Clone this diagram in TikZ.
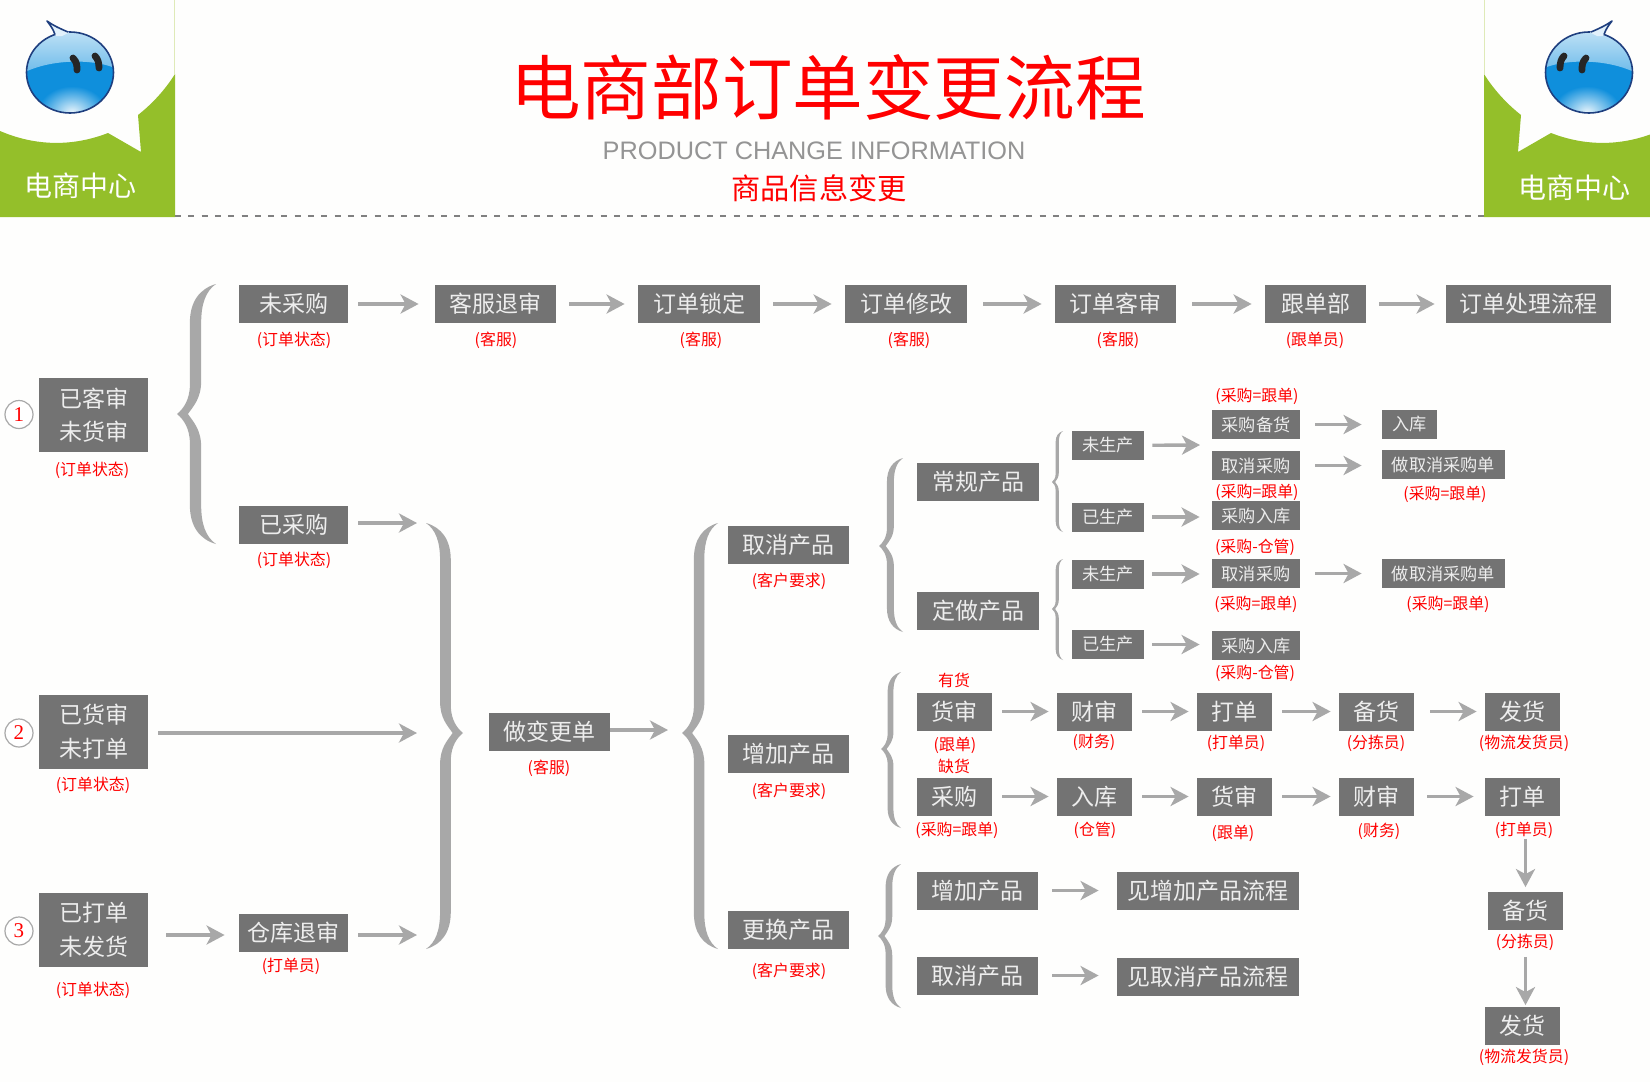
\documentclass[tikz,border=0pt]{standalone}
\usepackage{fontspec}
\setmainfont{Noto Sans CJK SC}
\newfontfamily\latinfont{Liberation Sans}
\newfontfamily\digitfont{Liberation Serif}
\usetikzlibrary{arrows.meta}
\definecolor{boxgray}{HTML}{737373}
\definecolor{linegray}{HTML}{A8A8A8}
\definecolor{leafgreen}{HTML}{94BF2A}
\definecolor{paleleaf}{HTML}{DFEAB8}
\definecolor{ballblue}{HTML}{0F8FDC}
\definecolor{ballnavy}{HTML}{1F3F7F}
\definecolor{pagebg}{HTML}{FEFEFD}
\tikzset{
stagebox/.style={
    rectangle,
    fill=boxgray,
    text=white!93!black,
    inner sep=0pt,
    minimum width=#1,
    minimum height=19pt,
    align=center,
    font=\fontsize{11.5}{16.8}\selectfont
},
minibox/.style={
    stagebox=#1,
    minimum height=14.5pt,
    font=\fontsize{8.6}{10}\selectfont
},
tag/.style={
    text=red,
    inner sep=0pt,
    yshift=-0.7pt,
    font=\fontsize{7.95}{9}\selectfont
},
headtext/.style={
    text=red,
    inner sep=0pt
},
step-no/.style={
    circle,
    draw=linegray,
    fill=white,
    text=red,
    line width=0.6pt,
    inner sep=0pt,
    minimum size=14pt,
    font=\digitfont\fontsize{10.5}{11}\selectfont
},
flow/.style={
    linegray,
    line width=1.7pt,
    >={Stealth[length=9pt,width=9.5pt,inset=2.5pt]},
    shorten <=6.5pt,
    shorten >=6.5pt
},
flownear/.style={
    flow,
    shorten <=5pt,
    shorten >=4pt
},
flowopen/.style={
    flow,
    shorten <=5pt,
    shorten >=0pt
},
}
\tikzset{bubble/.pic={
%
\fill [leafgreen] (0,217) -- (175,217) -- (175,74)
    .. controls (165,90) and (152,104) .. (138,115)
    -- (141,152) -- (108,133)
    .. controls (72,147) and (35,146) .. (0,131) -- cycle;
\draw [paleleaf,line width=0.8pt] (174.5,0) -- (174.5,74);
%
\fill [ballblue] (70,72.5) ellipse (43.5 and 40.5);
\begin{scope}
\clip (70,72.5) ellipse (43.5 and 40.5);
\shade [top color=ballblue!22!white,bottom color=ballblue!60!white]
    (25,72) .. controls (50,60) and (90,58) .. (115,68) -- (115,25) -- (25,25) -- cycle;
\shade [inner color=ballblue!10!white,outer color=ballblue] (72,112) ellipse (34 and 26);
\end{scope}
\draw [ballnavy,line width=0.8pt] (70,72.5) ellipse (43.5 and 40.5);
\fill [ballblue!12!white] (56,36) .. controls (54,30) and (51,26) .. (47,21) .. controls (54,26) and (61,29) .. (69,32.5) -- (62,36) -- cycle;
\draw [ballnavy,line width=0.8pt,line join=round] (55,34.5) .. controls (53,29) and (51,26) .. (47,21) .. controls (54,26) and (61,29) .. (68,32);
%
\draw [black!85,line width=3.4pt,line cap=round] (73,58) .. controls (77,62) and (77,66) .. (77,70);
\draw [black!85,line width=3.4pt,line cap=round] (95,56) .. controls (98,59) and (99,63) .. (99,68);
%
}}
\newcommand{\curlybrace}[5]{%
\pgfmathsetmacro{\braceA}{#1+0.33*#2}%
\pgfmathsetmacro{\braceB}{#1+0.62*#2}%
\pgfmathsetmacro{\braceE}{#1+#2}%
\pgfmathsetmacro{\braceH}{abs(#2)}%
\fill [linegray] (\braceE,#3)
    .. controls ({\braceA+0.25*#2},{#3+0.12*\braceH}) and (\braceA,{#3+0.45*\braceH}) .. (\braceA,{#3+\braceH})
    -- (\braceA,{#4-0.75*\braceH})
    .. controls (\braceA,{#4-0.35*\braceH}) and ({#1+0.15*#2},{#4-0.12*\braceH}) .. (#1,#4)
    .. controls ({#1+0.15*#2},{#4+0.12*\braceH}) and (\braceA,{#4+0.35*\braceH}) .. (\braceA,{#4+0.75*\braceH})
    -- (\braceA,{#5-\braceH})
    .. controls (\braceA,{#5-0.45*\braceH}) and ({\braceA+0.25*#2},{#5-0.12*\braceH}) .. (\braceE,#5)
    .. controls ({\braceB+0.12*#2},{#5-0.18*\braceH}) and (\braceB,{#5-0.5*\braceH}) .. (\braceB,{#5-\braceH})
    -- (\braceB,{#4+0.85*\braceH})
    .. controls (\braceB,{#4+0.4*\braceH}) and ({#1+0.42*#2},{#4+0.2*\braceH}) .. ({#1+0.28*#2},#4)
    .. controls ({#1+0.42*#2},{#4-0.2*\braceH}) and (\braceB,{#4-0.4*\braceH}) .. (\braceB,{#4-0.85*\braceH})
    -- (\braceB,{#3+\braceH})
    .. controls (\braceB,{#3+0.5*\braceH}) and ({\braceB+0.12*#2},{#3+0.18*\braceH}) .. (\braceE,#3) -- cycle;
}

\begin{document}
\begin{tikzpicture}[x=0.5pt,y=-0.5pt]

\clip (0,0) rectangle (1650,1082);
\fill [pagebg] (0,0) rectangle (1650,1082);

% header
\pic {bubble};
\pic [xscale=-1] at (1659,0) {bubble};
\node [text=white,inner sep=0pt,font=\fontsize{14}{15}\selectfont] (center-l) at (81,186) {电商中心};
\node [text=white,inner sep=0pt,font=\fontsize{14}{15}\selectfont] (center-r) at (1574,188) {电商中心};
\node [headtext,font=\fontsize{35.3}{37}\selectfont] (title) at (828,87) {电商部订单变更流程};
\node [inner sep=0pt,text=black!42,font=\latinfont\fontsize{12.65}{14}\selectfont] (subtitle) at (814,151) {PRODUCT CHANGE INFORMATION};
\node [headtext,font=\fontsize{14.6}{16}\selectfont] (subtitle-cn) at (819,188) {商品信息变更};
\coordinate (rule-l) at (175,216);
\coordinate (rule-r) at (1484,216);
\draw [black!50,line width=0.55pt,dash pattern=on 3pt off 3.65pt] (rule-l) -- (rule-r);

% left column
\node [step-no] (no1) at (19,414.5) {1};
\node [step-no] (no2) at (19,733) {2};
\node [step-no] (no3) at (19,931) {3};
\node [stagebox=54.5pt,minimum height=37pt] (kh) at (93.5,415) {已客审\\未货审};
\node [tag] (kh-tag) at (92,469) {(订单状态)};
\node [stagebox=54.5pt,minimum height=37pt] (hs) at (93.5,731.5) {已货审\\未打单};
\node [tag] (hs-tag) at (93,784) {(订单状态)};
\node [stagebox=54.5pt,minimum height=37pt] (dd) at (93.5,930) {已打单\\未发货};
\node [tag] (dd-tag) at (93,989) {(订单状态)};

% top row
\node [stagebox=54.5pt] (wcg) at (293.5,304) {未采购};
\node [tag] (wcg-tag) at (294,339) {(订单状态)};
\node [stagebox=60.5pt] (kftc) at (495.5,304) {客服退审};
\node [tag] (kftc-tag) at (496,339) {(客服)};
\node [stagebox=61pt] (ddsd) at (699,304) {订单锁定};
\node [tag] (ddsd-tag) at (701,339) {(客服)};
\node [stagebox=61pt] (ddxg) at (906,304) {订单修改};
\node [tag] (ddxg-tag) at (909,339) {(客服)};
\node [stagebox=60.5pt] (ddks) at (1115.5,304) {订单客审};
\node [tag] (ddks-tag) at (1118,339) {(客服)};
\node [stagebox=50.5pt] (gdb) at (1315.5,304) {跟单部};
\node [tag] (gdb-tag) at (1315,339) {(跟单员)};
\node [stagebox=82.5pt] (ddcl) at (1528.5,304) {订单处理流程};

\draw [->,flow,shorten <=5pt,shorten >=8pt] (wcg) -- (kftc);
\draw [->,flow] (kftc) -- (ddsd);
\draw [->,flow] (ddsd) -- (ddxg);
\draw [->,flow,shorten <=8pt] (ddxg) -- (ddks);
\draw [->,flow,shorten <=8pt] (ddks) -- (gdb);
\draw [->,flow,shorten >=5.5pt] (gdb) -- (ddcl);

% second column
\node [stagebox=54.5pt] (ycg) at (293.5,524.5) {已采购};
\node [tag] (ycg-tag) at (294,559) {(订单状态)};
\node [stagebox=54.5pt] (cktc) at (293.5,932.5) {仓库退审};
\node [tag] (cktc-tag) at (291,965) {(打单员)};
\coordinate (merge-a) at (417,523);
\coordinate (merge-b) at (417,733);
\coordinate (merge-c) at (417,935);
\draw [->,flowopen] (ycg.east |- merge-a) -- (merge-a);
\draw [->,flowopen] (hs.east |- merge-b) -- (merge-b);
\draw [->,flowopen] (cktc.east |- merge-c) -- (merge-c);
\draw [->,flow,shorten >=7pt,shorten <=9pt] (dd.east |- merge-c) -- (cktc.west |- merge-c);

\curlybrace{177}{39}{284}{414}{544}
\curlybrace{463}{-37}{523}{733}{949}
\curlybrace{682}{36}{523}{733}{949}
\curlybrace{879}{24}{458}{546}{632}
\curlybrace{881}{20}{672}{749}{828}
\curlybrace{878}{23}{864}{936}{1008}
\curlybrace{1052}{11}{431}{482}{532}
\curlybrace{1052}{11}{559}{609}{660}

% change order
\node [stagebox=60.5pt] (bgd) at (549.5,732) {做变更单};
\node [tag] (bgd-tag) at (549,767) {(客服)};
\coordinate (merge-d) at (668,730);
\draw [->,flow,shorten <=0pt,shorten >=0pt] (bgd.east |- merge-d) -- (merge-d);
\node [stagebox=60.5pt] (qxcp) at (788.5,544.5) {取消产品};
\node [tag] (qxcp-tag) at (789,580) {(客户要求)};
\node [stagebox=60.5pt] (zjcp) at (788.5,753.5) {增加产品};
\node [tag] (zjcp-tag) at (789,790) {(客户要求)};
\node [stagebox=60.5pt] (ghcp) at (788.5,930) {更换产品};
\node [tag] (ghcp-tag) at (789,970) {(客户要求)};

% cancel branch
\node [stagebox=61pt] (cgcp) at (978,482) {常规产品};
\node [stagebox=61pt] (dzcp) at (978,610.5) {定做产品};
\node [minibox=36pt] (wsc-a) at (1108,445.5) {未生产};
\node [minibox=36pt] (ysc-a) at (1108,517) {已生产};
\node [minibox=36pt] (wsc-b) at (1108,574) {未生产};
\node [minibox=36pt] (ysc-b) at (1108,644.5) {已生产};
\node [tag] (cgbh-tag) at (1257,395) {(采购=跟单)};
\node [minibox=44pt] (cgbh) at (1256,424.5) {采购备货};
\node [minibox=44pt] (qxcg-a) at (1256,465.5) {取消采购};
\node [tag] (qxcg-a-tag) at (1257,491) {(采购=跟单)};
\node [minibox=44pt] (cgrk-a) at (1256,515.5) {采购入库};
\node [tag] (cgrk-a-tag) at (1255,546) {(采购-仓管)};
\node [minibox=44pt] (qxcg-b) at (1256,573.5) {取消采购};
\node [tag] (qxcg-b-tag) at (1256,603) {(采购=跟单)};
\node [minibox=44pt] (cgrk-b) at (1256,645.5) {采购入库};
\node [tag] (cgrk-b-tag) at (1255,672) {(采购-仓管)};
\node [minibox=27.5pt] (rk-a) at (1409.5,424.5) {入库};
\node [minibox=61.5pt] (zqx-a) at (1443.5,464.5) {做取消采购单};
\node [tag] (zqx-a-tag) at (1445,493) {(采购=跟单)};
\node [minibox=61.5pt] (zqx-b) at (1443.5,573.5) {做取消采购单};
\node [tag] (zqx-b-tag) at (1448,603) {(采购=跟单)};

\coordinate (fork-a) at (1200,445);
\draw [->,flow,shorten <=4pt,shorten >=0pt] (wsc-a) -- (fork-a);
\draw [->,flow,shorten <=4pt,shorten >=6pt] (ysc-a.east) -- (cgrk-a.west |- ysc-a.east);
\draw [->,flow,shorten <=4pt,shorten >=6pt] (wsc-b) -- (qxcg-b.west |- wsc-b);
\draw [->,flow,shorten <=4pt,shorten >=6pt] (ysc-b.east) -- (cgrk-b.west |- ysc-b.east);
\draw [->,flow,shorten <=7.5pt,shorten >=10pt] (cgbh) -- (rk-a);
\draw [->,flow,shorten <=7.5pt,shorten >=10pt] (qxcg-a.east) -- (zqx-a.west |- qxcg-a.east);
\draw [->,flow,shorten <=7.5pt,shorten >=10pt] (qxcg-b) -- (zqx-b);

% add branch
\node [tag] (yh) at (954,679) {有货};
\node [stagebox=37.5pt] (hs-a) at (954.5,711.5) {货审};
\node [tag] (hs-a-tag) at (955,744) {(跟单)};
\node [stagebox=37.5pt] (cs-a) at (1094.5,711.5) {财审};
\node [tag] (cs-a-tag) at (1094,741) {(财务)};
\node [stagebox=37.5pt] (dj-a) at (1234.5,711.5) {打单};
\node [tag] (dj-a-tag) at (1236,742) {(打单员)};
\node [stagebox=37.5pt] (bh-a) at (1376.5,711.5) {备货};
\node [tag] (bh-a-tag) at (1376,742) {(分拣员)};
\node [stagebox=37.5pt] (fh-a) at (1522.5,711.5) {发货};
\node [tag] (fh-a-tag) at (1524,742) {(物流发货员)};
\node [tag] (qh) at (954,765) {缺货};
\node [stagebox=37.5pt] (cg-b) at (954.5,796.5) {采购};
\node [tag] (cg-b-tag) at (957,829) {(采购=跟单)};
\node [stagebox=37.5pt] (rk-b) at (1094.5,796.5) {入库};
\node [tag] (rk-b-tag) at (1095,829) {(仓管)};
\node [stagebox=37.5pt] (hs-b) at (1234.5,796.5) {货审};
\node [tag] (hs-b-tag) at (1233,832) {(跟单)};
\node [stagebox=37.5pt] (cs-b) at (1376.5,796.5) {财审};
\node [tag] (cs-b-tag) at (1379,830) {(财务)};
\node [stagebox=37.5pt] (dj-b) at (1522.5,796.5) {打单};
\node [tag] (dj-b-tag) at (1524,829) {(打单员)};
\node [stagebox=37.5pt] (bh-b) at (1525.5,910.5) {备货};
\node [tag] (bh-b-tag) at (1525,941) {(分拣员)};
\node [stagebox=37.5pt] (fh-b) at (1522.5,1025.5) {发货};
\node [tag] (fh-b-tag) at (1524,1056) {(物流发货员)};

\draw [->,flownear] (hs-a) -- (cs-a);
\draw [->,flownear] (cs-a) -- (dj-a);
\draw [->,flownear] (dj-a) -- (bh-a);
\draw [->,flownear,shorten <=8pt] (bh-a) -- (fh-a);
\draw [->,flownear] (cg-b) -- (rk-b);
\draw [->,flownear] (rk-b) -- (hs-b);
\draw [->,flownear] (hs-b) -- (cs-b);
\draw [->,flownear,shorten <=6.5pt,shorten >=5.5pt] (cs-b) -- (dj-b);
\draw [->,flow,shorten <=11.5pt,shorten >=2pt] (bh-b.north |- dj-b.south) -- (bh-b.north);
\draw [->,flow,shorten <=13.5pt,shorten >=0.5pt] (bh-b.south) -- (bh-b.south |- fh-b.north);

% replace branch
\node [stagebox=60.5pt] (zj) at (977.5,890.5) {增加产品};
\node [stagebox=91pt] (jzj) at (1208,890.5) {见增加产品流程};
\node [stagebox=60.5pt] (qx) at (977.5,975.5) {取消产品};
\node [stagebox=91pt] (jqx) at (1208,976.5) {见取消产品流程};
\draw [->,flow,shorten <=7pt,shorten >=9pt] (zj) -- (jzj);
\draw [->,flow,shorten <=7pt,shorten >=9pt] (qx.east) -- (jqx.west |- qx.east);

\end{tikzpicture}
\end{document}
